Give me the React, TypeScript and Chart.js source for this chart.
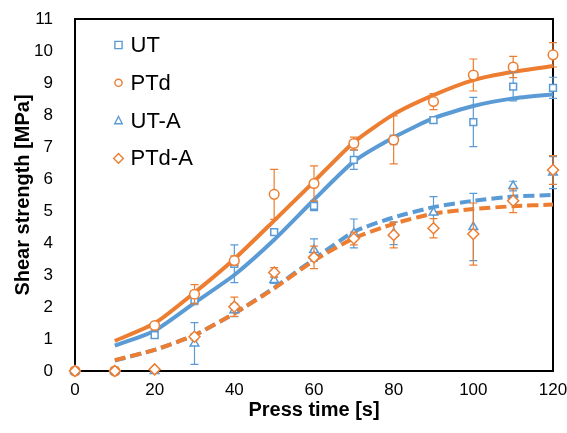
import React, { useEffect, useRef } from "react";
import { Chart, registerables } from "chart.js";

Chart.register(...registerables);

const FONT = "'Liberation Sans', Arial, sans-serif";
const BLUE = "#5B9BD5";
const ORANGE = "#ED7D31";

const pressTime = [0, 10, 20, 30, 40, 50, 60, 70, 80, 90, 100, 110, 120];
const fitTime = [10, 20, 30, 40, 50, 60, 70, 80, 90, 100, 110, 120];
const xTicks = [0, 20, 40, 60, 80, 100, 120];
const yTicks = [0, 1, 2, 3, 4, 5, 6, 7, 8, 9, 10, 11];
const xRange = [0, 120];
const yRange = [0, 11];

const utValues = [0, 0, 1.12, 2.22, 3.35, 4.34, 5.16, 6.6, 7.22, 7.84, 7.78, 8.89, 8.85];
const utErrors = [0, 0, 0.1, 0.15, 0.59, 0.1, 0.15, 0.3, 0.15, 0.1, 0.77, 0.45, 0.33];
const ptdValues = [0, 0, 1.42, 2.4, 3.45, 5.52, 5.86, 7.11, 7.22, 8.42, 9.25, 9.5, 9.88];
const ptdErrors = [0, 0, 0.1, 0.3, 0.15, 0.78, 0.55, 0.2, 0.75, 0.25, 0.5, 0.33, 0.38];
const utAValues = [0, 0, 0, 0.86, 1.9, 2.84, 3.78, 4.3, 4.3, 4.95, 4.5, 5.78, 6.2];
const utAErrors = [0, 0, 0, 0.65, 0.2, 0.1, 0.35, 0.45, 0.35, 0.5, 1.05, 0.15, 0.5];
const ptdAValues = [0, 0, 0.05, 1.07, 2.01, 3.08, 3.55, 4.14, 4.25, 4.46, 4.28, 5.32, 6.28];
const ptdAErrors = [0, 0, 0, 0.1, 0.3, 0.15, 0.35, 0.2, 0.4, 0.3, 0.97, 0.37, 0.45];

const utFit = [0.79, 1.26, 2.13, 3.0, 4.1, 5.35, 6.55, 7.3, 7.9, 8.28, 8.52, 8.65];
const ptdFit = [0.94, 1.49, 2.45, 3.5, 4.7, 5.92, 7.15, 8.02, 8.62, 9.09, 9.35, 9.53];
const utAFit = [0.33, 0.66, 1.12, 1.8, 2.6, 3.5, 4.35, 4.8, 5.12, 5.32, 5.45, 5.5];
const ptdAFit = [0.34, 0.66, 1.12, 1.8, 2.58, 3.45, 4.15, 4.6, 4.92, 5.06, 5.15, 5.2];

const seriesLabels = ["UT", "PTd", "UT-A", "PTd-A"];
const seriesColors = [BLUE, ORANGE, BLUE, ORANGE];
const seriesStyles = ["rect", "circle", "triangle", "rectRot"];
const seriesValues = [utValues, ptdValues, utAValues, ptdAValues];
const seriesErrors = [utErrors, ptdErrors, utAErrors, ptdAErrors];
const fitValues = [utFit, ptdFit, utAFit, ptdAFit];
const fitDashed = [false, false, true, true];

function drawMarker(ctx: CanvasRenderingContext2D, style: string, x: number, y: number, r: number) {
  ctx.beginPath();
  if (style === "rect") {
    ctx.rect(x - r, y - r, 2 * r, 2 * r);
  } else if (style === "circle") {
    ctx.arc(x, y, r, 0, Math.PI * 2);
  } else if (style === "triangle") {
    const h = r * 1.15;
    ctx.moveTo(x, y - h);
    ctx.lineTo(x + r * 1.05, y + h * 0.75);
    ctx.lineTo(x - r * 1.05, y + h * 0.75);
    ctx.closePath();
  } else {
    const d = r * 1.35;
    ctx.moveTo(x, y - d);
    ctx.lineTo(x + d, y);
    ctx.lineTo(x, y + d);
    ctx.lineTo(x - d, y);
    ctx.closePath();
  }
  ctx.fill();
  ctx.stroke();
}

const errorBarPlugin = {
  id: "errorBars",
  beforeDatasetDraw(chart: any, args: any) {
    const ds = chart.data.datasets[args.index];
    const idx = seriesLabels.indexOf(ds.label);
    if (idx < 0) return;
    const errs = seriesErrors[idx];
    const yScale = chart.scales.y;
    const ctx = chart.ctx;
    ctx.save();
    ctx.setLineDash([]);
    ctx.strokeStyle = seriesColors[idx];
    ctx.lineWidth = 1.2;
    args.meta.data.forEach((pt: any, i: number) => {
      const e = errs[i];
      if (!e) return;
      const v = seriesValues[idx][i];
      const yt = yScale.getPixelForValue(v + e);
      const yb = yScale.getPixelForValue(v - e);
      const x = pt.x;
      ctx.beginPath();
      ctx.moveTo(x, yt);
      ctx.lineTo(x, yb);
      ctx.moveTo(x - 4, yt);
      ctx.lineTo(x + 4, yt);
      ctx.moveTo(x - 4, yb);
      ctx.lineTo(x + 4, yb);
      ctx.stroke();
    });
    ctx.restore();
  },
};

const legendPlugin = {
  id: "insideLegend",
  afterDraw(chart: any) {
    const { ctx, chartArea: a } = chart;
    ctx.save();
    ctx.setLineDash([]);
    ctx.font = `22px ${FONT}`;
    ctx.textBaseline = "middle";
    ctx.textAlign = "left";
    seriesLabels.forEach((label, i) => {
      const y = a.top + 26 + i * 37.8;
      const x = a.left + 43.5;
      ctx.fillStyle = "#fff";
      ctx.strokeStyle = seriesColors[i];
      ctx.lineWidth = 1.4;
      drawMarker(ctx, seriesStyles[i], x, y, 3.6);
      ctx.fillStyle = "#000";
      ctx.fillText(label, a.left + 55.5, y + 1);
    });
    ctx.restore();
  },
};

const zeroPadding = (s: any) => {
  s.paddingTop = 0;
  s.paddingBottom = 0;
  s.paddingLeft = 0;
  s.paddingRight = 0;
};

export default function App() {
  const ref = useRef<HTMLCanvasElement>(null);
  useEffect(() => {
    // plot-area frame, traced through the chart's own scales
    const frameSet = {
      label: "frame",
      data: [
        { x: xRange[0], y: yRange[0] },
        { x: xRange[0], y: yRange[1] },
        { x: xRange[1], y: yRange[1] },
        { x: xRange[1], y: yRange[0] },
        { x: xRange[0], y: yRange[0] },
      ],
      borderColor: "#000000",
      backgroundColor: "#000000",
      borderWidth: 2,
      borderDash: [],
      pointRadius: 0,
      showLine: true,
      tension: 0,
      fill: false,
      order: 20,
      clip: false as any,
    };
    const fitSets = fitValues.map((vals, i) => ({
      label: seriesLabels[i] + " fit",
      data: fitTime.map((t, j) => ({ x: t, y: vals[j] })),
      borderColor: seriesColors[i],
      backgroundColor: seriesColors[i],
      borderWidth: 4,
      borderDash: fitDashed[i] ? [11, 5] : [],
      pointRadius: 0,
      showLine: true,
      tension: 0.2,
      fill: false,
      order: 10 - i,
      clip: false as any,
    }));
    const pointSets = seriesValues.map((vals, i) => ({
      label: seriesLabels[i],
      data: pressTime.map((t, j) => ({ x: t, y: vals[j] })),
      borderColor: seriesColors[i],
      backgroundColor: "#ffffff",
      borderWidth: 1.5,
      pointStyle: seriesStyles[i],
      pointRadius: seriesStyles[i] === "rectRot" ? 5.5 : seriesStyles[i] === "triangle" ? 5 : 4.8,
      showLine: false,
      order: 5 - i,
      clip: false as any,
    }));
    const chart = new Chart(ref.current as HTMLCanvasElement, {
      type: "scatter",
      data: { datasets: [frameSet, ...fitSets, ...pointSets] as any },
      options: {
        animation: false,
        responsive: true,
        maintainAspectRatio: false,
        layout: { padding: { top: 19, right: 14, left: 0, bottom: 0 } },
        plugins: { legend: { display: false }, tooltip: { enabled: false } },
        scales: {
          x: {
            type: "linear",
            min: xRange[0],
            max: xRange[1],
            afterBuildTicks: (s: any) => {
              s.ticks = xTicks.map((v) => ({ value: v }));
            },
            ticks: { font: { family: FONT, size: 17 }, color: "#000", padding: 9 },
            grid: { display: false, drawTicks: false },
            border: { display: false },
            title: {
              display: true,
              text: "Press time [s]",
              font: { family: FONT, size: 20, weight: "bold" },
              color: "#000",
              padding: { top: 0, bottom: 11 },
            },
            afterFit: (s: any) => {
              s.height = 62;
              zeroPadding(s);
            },
          },
          y: {
            type: "linear",
            min: yRange[0],
            max: yRange[1],
            afterBuildTicks: (s: any) => {
              s.ticks = yTicks.map((v) => ({ value: v }));
            },
            ticks: { font: { family: FONT, size: 17 }, color: "#000", padding: 22 },
            grid: { display: false, drawTicks: false },
            border: { display: false },
            title: {
              display: true,
              text: "Shear strength [MPa]",
              font: { family: FONT, size: 20, weight: "bold" },
              color: "#000",
              padding: { top: 11, bottom: 0 },
            },
            afterFit: (s: any) => {
              s.width = 75;
              zeroPadding(s);
            },
          },
        },
      } as any,
      plugins: [errorBarPlugin, legendPlugin],
    });
    return () => chart.destroy();
  }, []);
  return (
    <div style={{ position: "fixed", left: 0, top: 0, width: 567, height: 433, background: "#fff" }}>
      <canvas ref={ref} />
    </div>
  );
}
